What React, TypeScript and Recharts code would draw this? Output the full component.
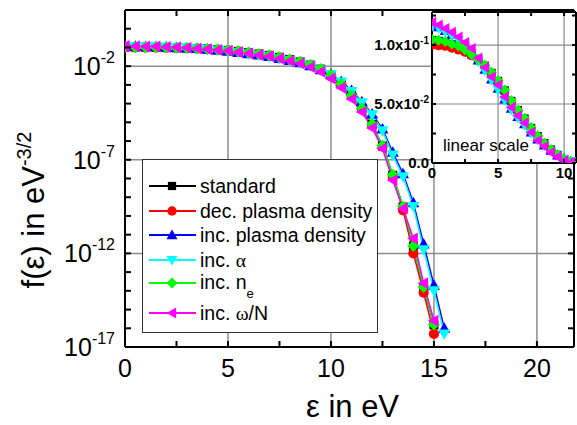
import React from "react";
import { LineChart, Line, XAxis, YAxis, ReferenceLine, Legend } from "recharts";

// energy grid (eV) and log10 of f(eps), one array per run
const energy = [
  0, 0.5, 1, 1.5, 2, 2.5, 3, 3.5, 4, 4.5, 5, 5.5, 6, 6.5, 7, 7.5, 8, 8.5, 9, 9.5,
  10, 10.5, 11, 11.5, 12, 12.5, 13, 13.5, 14, 14.5, 15, 15.5,
];

const standardLog = [
  -0.982, -0.985, -0.989, -0.997, -1.006, -1.02, -1.038, -1.058, -1.084, -1.117,
  -1.158, -1.211, -1.279, -1.35, -1.424, -1.527, -1.642, -1.775, -1.944, -2.16,
  -2.49, -2.96, -3.56, -4.26, -5.12, -6.27, -7.83, -9.52, -11.62, -13.82, -15.82,
];
const decDensityLog = [
  -1.0, -1.002, -1.004, -1.011, -1.018, -1.027, -1.041, -1.06, -1.086, -1.119,
  -1.161, -1.215, -1.284, -1.357, -1.432, -1.538, -1.658, -1.796, -1.959, -2.187,
  -2.55, -3.0, -3.6, -4.3, -5.15, -6.3, -7.9, -9.7, -12.0, -14.1, -16.3,
];
const incDensityLog = [
  -0.932, -0.939, -0.951, -0.963, -0.979, -1.0, -1.027, -1.06, -1.102, -1.149,
  -1.201, -1.268, -1.337, -1.409, -1.481, -1.585, -1.699, -1.824, -1.979, -2.187,
  -2.43, -2.82, -3.3, -3.9, -4.55, -5.35, -6.6, -7.75, -9.3, -11.5, -13.7, -16.0,
];
const incAlphaLog = [
  -0.936, -0.943, -0.955, -0.967, -0.983, -1.004, -1.032, -1.066, -1.108, -1.155,
  -1.208, -1.276, -1.347, -1.42, -1.495, -1.602, -1.71, -1.839, -1.991, -2.2,
  -2.45, -2.85, -3.35, -3.95, -4.6, -5.45, -6.75, -7.9, -9.5, -11.8, -14.0, -16.3,
];
const incNeLog = [
  -0.979, -0.983, -0.987, -0.996, -1.004, -1.018, -1.036, -1.056, -1.081, -1.114,
  -1.155, -1.208, -1.276, -1.347, -1.42, -1.523, -1.638, -1.77, -1.939, -2.155,
  -2.48, -2.95, -3.55, -4.25, -5.1, -6.25, -7.8, -9.5, -11.6, -13.8, -15.8,
];
const incOmegaLog = [
  -0.924, -0.932, -0.943, -0.955, -0.971, -0.991, -1.013, -1.051, -1.092, -1.137,
  -1.18, -1.252, -1.328, -1.398, -1.469, -1.585, -1.721, -1.854, -2.046, -2.3,
  -2.66, -3.15, -3.75, -4.45, -5.3, -6.4, -8.1, -9.6, -11.2, -13.6, -15.6,
];

const mainXTicks = [0, 2.5, 5, 7.5, 10, 12.5, 15, 17.5, 20];
const mainYTicks = [
  1e-17, 1e-16, 1e-15, 1e-14, 1e-13, 1e-12, 1e-11, 1e-10, 1e-9, 1e-8, 1e-7,
  1e-6, 1e-5, 1e-4, 1e-3, 1e-2, 1e-1, 1e0, 1e1,
];
const mainYLabelled = [-17, -12, -7, -2];
const insetXTicks = [0, 2.5, 5, 7.5, 10];
const insetYTicks = [0, 0.025, 0.05, 0.075, 0.1, 0.125];

const FONT = "'Liberation Sans', Arial, Helvetica, sans-serif";
const MAIN = { left: 125, top: 10, right: 574, bottom: 347 };
const INSET = { width: 144, height: 151 };

type Shape = "square" | "circle" | "up" | "down" | "diamond" | "left";

const greek = (c: string) => (
  <span style={{ fontFamily: "'Liberation Serif', 'DejaVu Serif', serif" }}>{c}</span>
);

const series: { key: string; color: string; shape: Shape; values: number[]; label: React.ReactNode }[] = [
  { key: "standard", color: "#000000", shape: "square", values: standardLog, label: "standard" },
  { key: "decDensity", color: "#ff0000", shape: "circle", values: decDensityLog, label: "dec. plasma density" },
  { key: "incDensity", color: "#0000ff", shape: "up", values: incDensityLog, label: "inc. plasma density" },
  { key: "incAlpha", color: "#00ffff", shape: "down", values: incAlphaLog, label: <>inc. {greek("α")}</> },
  {
    key: "incNe",
    color: "#00ff00",
    shape: "diamond",
    values: incNeLog,
    label: (
      <>
        inc. n<span style={{ fontSize: 13, position: "relative", top: 9 }}>e</span>
      </>
    ),
  },
  { key: "incOmega", color: "#ff00ff", shape: "left", values: incOmegaLog, label: <>inc. {greek("ω")}/N</> },
];

const rows = energy.map((e, i) => {
  const row: Record<string, number | undefined> = { e };
  series.forEach((s) => {
    const v = s.values[i];
    row[s.key] = v === undefined ? undefined : Math.pow(10, v);
  });
  return row;
});
const insetRows = rows.filter((r) => (r.e as number) <= 10.9);

function Marker({ cx, cy, shape, color, r }: { cx?: number; cy?: number; shape: Shape; color: string; r: number }) {
  if (cx == null || cy == null || isNaN(cx) || isNaN(cy)) return null;
  switch (shape) {
    case "square":
      return <rect x={cx - r * 0.75} y={cy - r * 0.75} width={r * 1.5} height={r * 1.5} fill={color} />;
    case "circle":
      return <circle cx={cx} cy={cy} r={r * 0.85} fill={color} />;
    case "up":
      return <polygon points={`${cx},${cy - r} ${cx + r},${cy + r * 0.75} ${cx - r},${cy + r * 0.75}`} fill={color} />;
    case "down":
      return <polygon points={`${cx},${cy + r} ${cx + r},${cy - r * 0.75} ${cx - r},${cy - r * 0.75}`} fill={color} />;
    case "diamond":
      return <polygon points={`${cx},${cy - r} ${cx + r},${cy} ${cx},${cy + r} ${cx - r},${cy}`} fill={color} />;
    default:
      return <polygon points={`${cx - r},${cy} ${cx + r * 0.75},${cy - r} ${cx + r * 0.75},${cy + r}`} fill={color} />;
  }
}

// main axes: inward ticks on all four sides, labels only on majors
const MainXTick = ({ x, y, payload }: any) => {
  const v = payload.value as number;
  return (
    <g>
      <line x1={x} x2={x} y1={y} y2={y - 6} stroke="#000" strokeWidth={2} />
      <line x1={x} x2={x} y1={MAIN.top} y2={MAIN.top + 6} stroke="#000" strokeWidth={2} />
      {v % 5 === 0 && (
        <text x={x} y={y + 30} textAnchor="middle" fontSize={25} fontFamily={FONT} fill="#000">
          {v}
        </text>
      )}
    </g>
  );
};

const MainYTick = ({ x, y, payload }: any) => {
  const exp = Math.round(Math.log10(payload.value));
  return (
    <g>
      <line x1={x} x2={x + 6} y1={y} y2={y} stroke="#000" strokeWidth={2} />
      <line x1={MAIN.right - 6} x2={MAIN.right} y1={y} y2={y} stroke="#000" strokeWidth={2} />
      {mainYLabelled.includes(exp) && (
        <text x={x - 10} y={y + 9} textAnchor="end" fontSize={25} fontFamily={FONT} fill="#000">
          10
          <tspan dy={-12} fontSize={16}>
            {exp}
          </tspan>
        </text>
      )}
    </g>
  );
};

const InsetXTick = ({ x, y, payload }: any) => {
  const v = payload.value as number;
  return (
    <g>
      <line x1={x} x2={x} y1={y} y2={y - 4} stroke="#000" strokeWidth={2} />
      <line x1={x} x2={x} y1={y - INSET.height} y2={y - INSET.height + 4} stroke="#000" strokeWidth={2} />
      {v % 5 === 0 && (
        <text x={x} y={y + 15} textAnchor="middle" fontSize={15} fontWeight="bold" fontFamily={FONT} fill="#000">
          {v}
        </text>
      )}
    </g>
  );
};

const insetYLabel = (v: number) => {
  if (v === 0) return <>0.0</>;
  if (Math.abs(v - 0.05) < 1e-9) return <>5.0x10<tspan dy={-6} fontSize={10}>-2</tspan></>;
  if (Math.abs(v - 0.1) < 1e-9) return <>1.0x10<tspan dy={-6} fontSize={10}>-1</tspan></>;
  return null;
};

const InsetYTick = ({ x, y, payload }: any) => {
  const lbl = insetYLabel(payload.value);
  return (
    <g>
      <line x1={x} x2={x + 4} y1={y} y2={y} stroke="#000" strokeWidth={2} />
      <line x1={x + INSET.width - 4} x2={x + INSET.width} y1={y} y2={y} stroke="#000" strokeWidth={2} />
      {lbl && (
        <text x={x - 3} y={y + 5} textAnchor="end" fontSize={15} fontWeight="bold" fontFamily={FONT} fill="#000">
          {lbl}
        </text>
      )}
    </g>
  );
};

const YTitle = ({ viewBox }: any) => (
  <text
    transform={`translate(${viewBox.x + 44},210) rotate(-90)`}
    textAnchor="middle"
    fontSize={31}
    fontFamily={FONT}
    fill="#000"
  >
    f(ε) in eV
    <tspan dy={-13} fontSize={20}>
      -3/2
    </tspan>
  </text>
);

const XTitle = ({ viewBox }: any) => (
  <text x={viewBox.x + viewBox.width / 2 + 3} y={viewBox.y + 70} textAnchor="middle" fontSize={31} fontFamily={FONT} fill="#000">
    ε in eV
  </text>
);

const legendRowCenters = [27, 52, 76, 101, 124, 154];

const LegendBox = () => (
  <div
    style={{
      position: "relative",
      width: 236,
      height: 174,
      boxSizing: "border-box",
      border: "1px solid #333",
      background: "#fff",
      fontFamily: FONT,
      color: "#000",
    }}
  >
    {series.map((s, i) => (
      <div
        key={s.key}
        style={{
          position: "absolute",
          left: 0,
          top: legendRowCenters[i] - 13,
          height: 24,
          display: "flex",
          alignItems: "center",
          whiteSpace: "nowrap",
        }}
      >
        <svg width={56} height={24} style={{ display: "block" }}>
          <line x1={6} x2={53} y1={12} y2={12} stroke={s.color} strokeWidth={2} />
          <Marker cx={29} cy={12} shape={s.shape} color={s.color} r={5.5} />
        </svg>
        <span style={{ fontSize: 19.5, marginLeft: 1, lineHeight: "24px" }}>{s.label}</span>
      </div>
    ))}
  </div>
);

export default function App() {
  return (
    <div style={{ position: "absolute", left: 0, top: 0, width: 577, height: 425, background: "#fff" }}>
      <LineChart width={577} height={425} data={rows} margin={{ top: 10, right: 3, left: 0, bottom: 0 }}>
        <XAxis
          dataKey="e"
          type="number"
          domain={[0, 21.8]}
          allowDataOverflow
          ticks={mainXTicks}
          interval={0}
          height={78}
          tickSize={0}
          tickMargin={0}
          tick={(p: any) => <MainXTick {...p} />}
          axisLine={{ stroke: "#000", strokeWidth: 2 }}
          label={<XTitle />}
        />
        <YAxis
          type="number"
          scale="log"
          domain={[1e-17, 10]}
          allowDataOverflow
          ticks={mainYTicks}
          interval={0}
          width={125}
          tickSize={0}
          tickMargin={0}
          tick={(p: any) => <MainYTick {...p} />}
          axisLine={{ stroke: "#000", strokeWidth: 2 }}
          label={<YTitle />}
        />
        {[5, 10, 15, 20].map((v) => (
          <ReferenceLine key={`gx${v}`} x={v} stroke="#8c8c8c" strokeWidth={1.5} />
        ))}
        {[1e-12, 1e-7, 1e-2].map((v) => (
          <ReferenceLine key={`gy${v}`} y={v} stroke="#8c8c8c" strokeWidth={1.5} />
        ))}
        <ReferenceLine y={10} stroke="#000" strokeWidth={2} />
        <ReferenceLine x={21.8} stroke="#000" strokeWidth={2} />
        {series.map((s) => (
          <Line
            key={s.key}
            dataKey={s.key}
            type="linear"
            stroke={s.color}
            strokeWidth={1.5}
            isAnimationActive={false}
            activeDot={false}
            dot={(p: any) => (
              <Marker key={`${s.key}-${p.index}`} cx={p.cx} cy={p.cy} shape={s.shape} color={s.color} r={6} />
            )}
          />
        ))}
        <Legend
          content={<LegendBox />}
          layout="vertical"
          align="center"
          verticalAlign="middle"
          wrapperStyle={{ left: 142, top: 159, width: 236, height: 174 }}
        />
      </LineChart>

      {/* inset, linear scale */}
      <div style={{ position: "absolute", left: 432, top: 12, width: INSET.width, height: INSET.height, background: "#fff" }} />
      <div style={{ position: "absolute", left: 360, top: 0, width: 217, height: 180 }}>
        <LineChart width={217} height={180} data={insetRows} margin={{ top: 12, right: 1, left: 0, bottom: 0 }}>
          <XAxis
            dataKey="e"
            type="number"
            domain={[0, 10.9]}
            allowDataOverflow
            ticks={insetXTicks}
            interval={0}
            height={17}
            tickSize={0}
            tickMargin={0}
            tick={(p: any) => <InsetXTick {...p} />}
            axisLine={{ stroke: "#000", strokeWidth: 2 }}
          />
          <YAxis
            type="number"
            domain={[0, 0.128]}
            allowDataOverflow
            ticks={insetYTicks}
            interval={0}
            width={72}
            tickSize={0}
            tickMargin={0}
            tick={(p: any) => <InsetYTick {...p} />}
            axisLine={{ stroke: "#000", strokeWidth: 2 }}
          />
          {[5, 10].map((v) => (
            <ReferenceLine key={`ix${v}`} x={v} stroke="#8c8c8c" strokeWidth={1.2} />
          ))}
          {[0.05, 0.1].map((v) => (
            <ReferenceLine key={`iy${v}`} y={v} stroke="#8c8c8c" strokeWidth={1.2} />
          ))}
          <ReferenceLine y={0.128} stroke="#000" strokeWidth={2} />
          <ReferenceLine x={10.9} stroke="#000" strokeWidth={2} />
          {series.map((s) => (
            <Line
              key={s.key}
              dataKey={s.key}
              type="linear"
              stroke={s.color}
              strokeWidth={1.5}
              isAnimationActive={false}
              activeDot={false}
              dot={(p: any) => (
                <Marker key={`i-${s.key}-${p.index}`} cx={p.cx} cy={p.cy} shape={s.shape} color={s.color} r={5.5} />
              )}
            />
          ))}
        </LineChart>
        <div
          style={{
            position: "absolute",
            left: 83,
            top: 137,
            fontSize: 17,
            fontFamily: FONT,
            color: "#000",
            whiteSpace: "nowrap",
            lineHeight: "17px",
          }}
        >
          linear scale
        </div>
      </div>
    </div>
  );
}
